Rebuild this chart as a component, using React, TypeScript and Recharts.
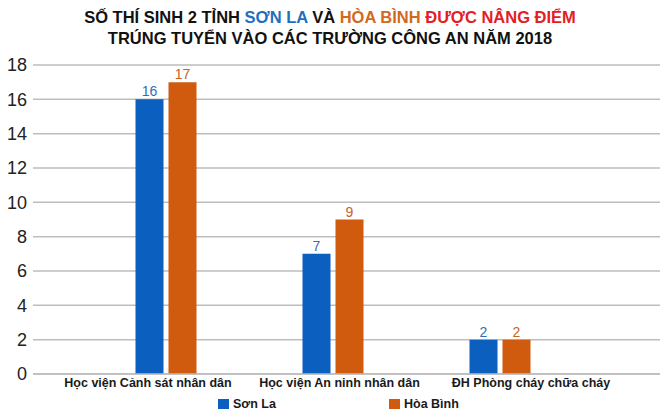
import { Bar, BarChart, CartesianGrid, LabelList, Legend, XAxis, YAxis } from "recharts";

const schools = [
  "Học viện Cảnh sát nhân dân",
  "Học viện An ninh nhân dân",
  "ĐH Phòng cháy chữa cháy",
];
const sonLa = [16, 7, 2];
const hoaBinh = [17, 9, 2];
const yTicks = [0, 2, 4, 6, 8, 10, 12, 14, 16, 18];

const BLUE = "#0a5fbf";
const ORANGE = "#d05a0e";
const FONT = "'Liberation Sans', Arial, sans-serif";

const rows = schools.map((name, i) => ({ name, sonLa: sonLa[i], hoaBinh: hoaBinh[i] }));

const legendItems = [
  { label: "Sơn La", color: BLUE },
  { label: "Hòa Bình", color: ORANGE },
];

// the source's category labels are spread a bit wider than the bar groups
function SchoolTick({ x, y, payload, index }: any) {
  return (
    <text
      x={x}
      y={y}
      dx={-18 + index * 24.5}
      dy={11}
      textAnchor="middle"
      fontSize={12.5}
      fontWeight={700}
      fill="#1a1a1a"
      fontFamily={FONT}
    >
      {payload.value}
    </text>
  );
}

function LegendRow() {
  return (
    <div style={{ display: "flex", paddingLeft: 218, height: 20, alignItems: "center", fontFamily: FONT, lineHeight: "16px" }}>
      {legendItems.map((p) => (
        <div key={p.label} style={{ display: "flex", alignItems: "center", width: 171, fontSize: 12.5, fontWeight: 700, color: "#1a1a1a" }}>
          <span style={{ display: "inline-block", width: 11, height: 10, background: p.color, marginRight: 4 }} />
          {p.label}
        </div>
      ))}
    </div>
  );
}

export default function App() {
  return (
    <div style={{ position: "absolute", top: 0, left: 0, width: 660, height: 414, background: "#fff", fontFamily: FONT }}>
      <div style={{ height: 48, textAlign: "center", fontWeight: 700, fontSize: 16.5, lineHeight: "21px", paddingTop: 7, boxSizing: "border-box", color: "#111" }}>
        <div>
          SỐ THÍ SINH 2 TỈNH <span style={{ color: "#1f6fc0" }}>SƠN LA</span> VÀ{" "}
          <span style={{ color: "#d2691e" }}>HÒA BÌNH</span>{" "}
          <span style={{ color: "#e3201f" }}>ĐƯỢC NÂNG ĐIỂM</span>
        </div>
        <div>TRÚNG TUYỂN VÀO CÁC TRƯỜNG CÔNG AN NĂM 2018</div>
      </div>
      <BarChart
        width={660}
        height={366}
        data={rows}
        margin={{ top: 17, right: 0, left: 0, bottom: 0 }}
        barSize={28}
        barGap={5}
      >
        <CartesianGrid vertical={false} stroke="#bdbdbd" strokeWidth={1.5} />
        <XAxis
          dataKey="name"
          height={20}
          interval={0}
          padding={{ left: 49.5, right: 76.5 }}
          axisLine={{ stroke: "#bdbdbd", strokeWidth: 1.5 }}
          tickLine={false}
          tickSize={0}
          tick={<SchoolTick />}
        />
        <YAxis
          width={33}
          domain={[0, 18]}
          ticks={yTicks}
          interval={0}
          axisLine={false}
          tickLine={false}
          tickSize={0}
          tickMargin={6}
          tick={{ fontSize: 18, fill: "#222", fontFamily: FONT }}
        />
        <Legend height={20} verticalAlign="bottom" content={<LegendRow />} />
        <Bar dataKey="sonLa" name="Sơn La" fill={BLUE} isAnimationActive={false}>
          <LabelList dataKey="sonLa" position="top" offset={3} fill="#2f6fba" fontSize={14} fontFamily={FONT} />
        </Bar>
        <Bar dataKey="hoaBinh" name="Hòa Bình" fill={ORANGE} isAnimationActive={false}>
          <LabelList dataKey="hoaBinh" position="top" offset={3} fill="#c8612a" fontSize={14} fontFamily={FONT} />
        </Bar>
      </BarChart>
    </div>
  );
}
